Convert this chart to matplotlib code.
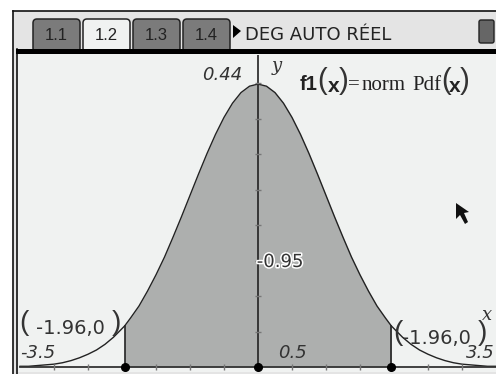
import matplotlib
matplotlib.use("Agg")
import matplotlib.pyplot as plt
import matplotlib.patheffects as pe
from matplotlib.patches import Rectangle, FancyBboxPatch, Polygon

W, H = 496, 374

# curve
xs = [-3.5, -3.375, -3.25, -3.125, -3.0, -2.875, -2.75, -2.625, -2.5, -2.375, -2.25, -2.125, -1.96, -1.875,
      -1.75, -1.625, -1.5, -1.375, -1.25, -1.125, -1.0, -0.875, -0.75, -0.625, -0.5, -0.375, -0.25, -0.125, 0.0,
      0.125, 0.25, 0.375, 0.5, 0.625, 0.75, 0.875, 1.0, 1.125, 1.25, 1.375, 1.5, 1.625, 1.75, 1.875,
      1.96, 2.125, 2.25, 2.375, 2.5, 2.625, 2.75, 2.875, 3.0, 3.125, 3.25, 3.375, 3.5]
ys = [0.001, 0.001, 0.002, 0.003, 0.004, 0.006, 0.009, 0.013, 0.018, 0.024, 0.032, 0.042, 0.058, 0.069,
      0.086, 0.107, 0.130, 0.155, 0.183, 0.212, 0.242, 0.272, 0.301, 0.328, 0.352, 0.372, 0.387, 0.396, 0.399,
      0.396, 0.387, 0.372, 0.352, 0.328, 0.301, 0.272, 0.242, 0.212, 0.183, 0.155, 0.130, 0.107, 0.086, 0.069,
      0.058, 0.042, 0.032, 0.024, 0.018, 0.013, 0.009, 0.006, 0.004, 0.003, 0.002, 0.001, 0.001]
bound_lo = -1.96
bound_hi = 1.96
x_ticks = [-3.0, -2.5, -2.0, -1.5, -1.0, -0.5, 0.5, 1.0, 1.5, 2.0, 2.5, 3.0]
y_ticks = [0.05, 0.1, 0.15, 0.2, 0.25, 0.3, 0.35, 0.4]
tab_labels = ["1.1", "1.2", "1.3", "1.4"]
status = "DEG AUTO RÉEL"

fig = plt.figure(figsize=(W / 100, H / 100), dpi=100, facecolor="white")

# whole figure in pixel coordinates for the calculator chrome
bg = fig.add_axes([0, 0, 1, 1])
bg.set_xlim(0, W)
bg.set_ylim(H, 0)
bg.axis("off")
bg.add_patch(Rectangle((13, 11), W - 13, H - 11, fc="#e4e4e4", ec="none"))
bg.plot([12.5, 12.5], [10.5, H], color="#111111", lw=1.2)
bg.plot([12.5, W], [10.5, 10.5], color="#111111", lw=1.2)
bg.plot([16.5, 16.5], [49, H], color="#111111", lw=1.2)
bg.add_patch(Rectangle((17, 54), W - 17, 318, fc="#f0f2f1", ec="none"))

tab_left = [32, 82, 132, 182]
for i, label in enumerate(tab_labels):
    on = i == 1
    bg.add_patch(FancyBboxPatch((tab_left[i] + 1, 19), 47, 33, boxstyle="round,pad=0,rounding_size=4",
                                fc="#f0f2f1" if on else "#7b7b7b", ec="#222222", lw=1.1))
    bg.text(tab_left[i] + 24, 35, label, ha="center", va="center", fontsize=12, color="#222222",
            family="Liberation Sans")
bg.add_patch(Rectangle((16, 49), W - 16, 5, fc="black", ec="none", zorder=3))
bg.add_patch(Polygon([[233, 25], [241, 31], [233, 38]], fc="black", ec="none"))
bg.text(245, 35, status, ha="left", va="center", fontsize=13, color="#222222", family="DejaVu Sans")
bg.add_patch(FancyBboxPatch((479, 20), 15, 23, boxstyle="round,pad=0,rounding_size=2",
                            fc="#666666", ec="#222222", lw=1))
bg.add_patch(Polygon([[456, 203], [456, 219], [460, 215], [465, 224], [468, 222], [464, 213], [469, 212]],
                     fc="#111111", ec="none", zorder=5))

# plot window, x -3.5..3.5 spans px 20..496, y 0..0.44 spans px 367..55
ax = fig.add_axes([20 / W, 1 - 367 / H, 476 / W, 312 / H])
ax.set_xlim(-3.5, 3.5)
ax.set_ylim(0, 0.44)
ax.patch.set_alpha(0)
for s in ax.spines.values():
    s.set_visible(False)
ax.set_xticks([])
ax.set_yticks([])

xs_in = [x for x in xs if bound_lo <= x <= bound_hi]
ys_in = [y for x, y in zip(xs, ys) if bound_lo <= x <= bound_hi]
ax.fill_between(xs_in, ys_in, 0, color="#adafae", lw=0)
ax.plot(xs, ys, color="#222222", lw=1.0, clip_on=False)
ax.plot([bound_lo, bound_lo], [0, ys[xs.index(bound_lo)]], color="#222222", lw=1.2)
ax.plot([bound_hi, bound_hi], [0, ys[xs.index(bound_hi)]], color="#222222", lw=1.2)
ax.axhline(0, color="#333333", lw=1.3, clip_on=False)
ax.axvline(0, color="#222222", lw=1.2)
ax.plot(x_ticks, [0] * len(x_ticks), ls="none", marker="|", ms=4, color="#777777", clip_on=False)
ax.plot([0] * len(y_ticks), y_ticks, ls="none", marker="_", ms=5, color="#777777")
ax.plot([bound_lo, 0, bound_hi], [0, 0, 0], ls="none", marker="o", ms=5.5, color="black", clip_on=False, zorder=6)


def px_text(x, y, s, **kw):
    kw.setdefault("color", "#333333")
    kw.setdefault("ha", "center")
    kw.setdefault("va", "center")
    return fig.text(x / W, 1 - y / H, s, **kw)


px_text(222, 75, "0.44", fontsize=13, style="italic")
px_text(277, 66, "y", fontsize=13, style="italic", family="DejaVu Serif")
px_text(487, 315, "x", fontsize=13, style="italic", family="DejaVu Serif")
px_text(38, 353, "-3.5", fontsize=13, style="italic")
px_text(292, 353, "0.5", fontsize=13, style="italic")
px_text(480, 353, "3.5", fontsize=13, style="italic")
t = px_text(280, 262, "-0.95", fontsize=13, color="#333333")
t.set_path_effects([pe.withStroke(linewidth=2.2, foreground="white")])

paren = dict(fontsize=20, family="Liberation Sans", fontweight="light")
px_text(24, 323, "(", **paren)
px_text(70, 329, "-1.96,0", fontsize=14)
px_text(116, 323, ")", **paren)
px_text(398, 333, "(", **paren)
px_text(436, 338, "-1.96,0", fontsize=14)
px_text(482, 333, ")", **paren)

big = dict(fontsize=21, family="Liberation Sans", color="#333333")
bold = dict(fontweight="bold", family="Liberation Sans", color="#222222")
px_text(309, 84, "f1", fontsize=14.5, **bold)
px_text(322, 81, "(", **big)
px_text(334, 86, "x", fontsize=15, **bold)
px_text(344, 81, ")", **big)
serif = dict(fontsize=15, color="#222222", family="Liberation Serif")
px_text(354, 85, "=", **serif)
px_text(384, 85, "norm", **serif)
px_text(427, 85, "Pdf", **serif)
px_text(446, 81, "(", **big)
px_text(455, 86, "x", fontsize=15, **bold)
px_text(465, 81, ")", **big)

fig.savefig("out.png", dpi=100)
